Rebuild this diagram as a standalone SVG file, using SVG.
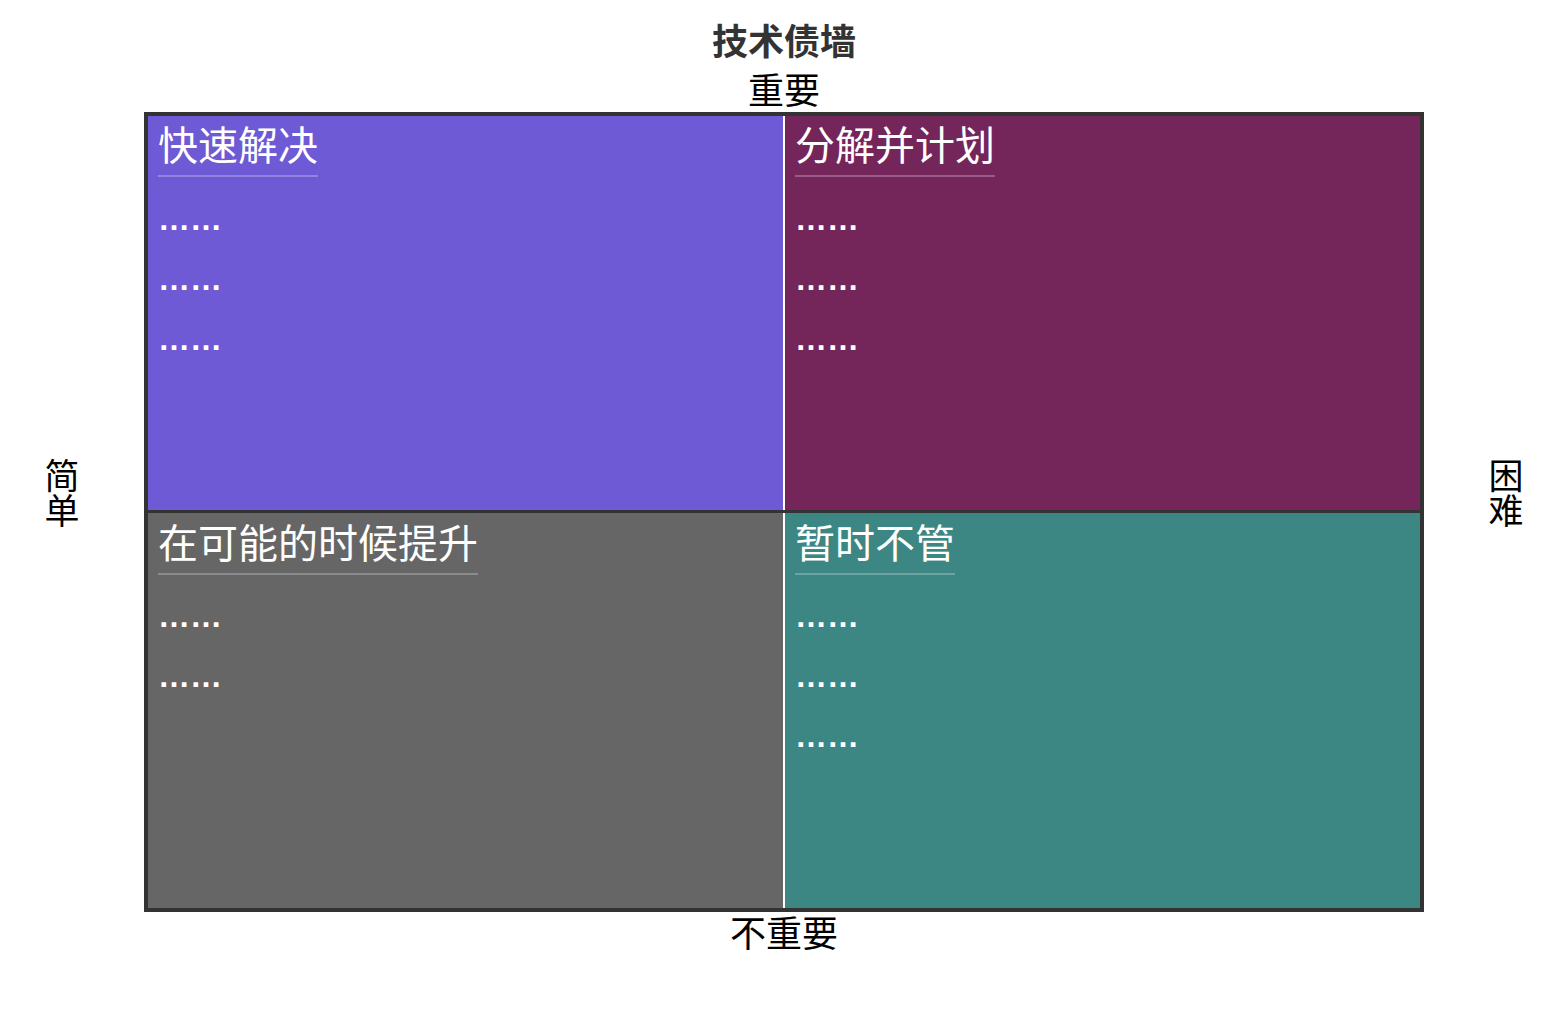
<svg xmlns="http://www.w3.org/2000/svg" width="1562" height="1010" viewBox="0 0 1562 1010">
<style>
  .axis { font-family: "Noto Sans CJK SC", sans-serif; font-size: 36px; fill: #000; text-anchor: middle; }
  .vert { font-family: "Noto Sans CJK SC", sans-serif; font-size: 35px; fill: #000; text-anchor: middle; writing-mode: vertical-rl; }
  .title { font-family: "Noto Sans CJK SC", sans-serif; font-size: 36px; font-weight: bold; fill: #333; text-anchor: middle; }
  .qt { font-family: "Noto Sans CJK SC", sans-serif; font-size: 40px; fill: #fff; }
  .ul { stroke: #fff; stroke-opacity: 0.25; stroke-width: 2; }
  .dots { font-family: "Liberation Sans", sans-serif; font-size: 32px; font-weight: bold; fill: #fff; }
</style>
<rect width="1562" height="1010" fill="#fff"/>
<g id="title">
  <text class="title" x="784" y="55">技术债墙</text>
</g>
<g id="axes">
  <text class="axis" x="784" y="104">重要</text>
  <text class="axis" x="784" y="947">不重要</text>
  <text class="vert" x="62" y="493">简单</text>
  <text class="vert" x="1506" y="493">困难</text>
</g>
<g id="q1">
  <rect x="148" y="116" width="635" height="396" fill="#6e5ad5"/>
  <text class="qt" x="158" y="160">快速解决</text>
  <line class="ul" x1="158" y1="176" x2="318" y2="176"/>
  <text class="dots" x="158" y="230">……</text>
  <text class="dots" x="158" y="290">……</text>
  <text class="dots" x="158" y="350">……</text>
</g>
<g id="q2">
  <rect x="785" y="116" width="635" height="396" fill="#74265a"/>
  <text class="qt" x="795" y="160">分解并计划</text>
  <line class="ul" x1="795" y1="176" x2="995" y2="176"/>
  <text class="dots" x="795" y="230">……</text>
  <text class="dots" x="795" y="290">……</text>
  <text class="dots" x="795" y="350">……</text>
</g>
<g id="q3">
  <rect x="148" y="512" width="635" height="396" fill="#666666"/>
  <text class="qt" x="158" y="558">在可能的时候提升</text>
  <line class="ul" x1="158" y1="574" x2="478" y2="574"/>
  <text class="dots" x="158" y="627">……</text>
  <text class="dots" x="158" y="687">……</text>
</g>
<g id="q4">
  <rect x="785" y="512" width="635" height="396" fill="#3c8683"/>
  <text class="qt" x="795" y="558">暂时不管</text>
  <line class="ul" x1="795" y1="574" x2="955" y2="574"/>
  <text class="dots" x="795" y="627">……</text>
  <text class="dots" x="795" y="687">……</text>
  <text class="dots" x="795" y="747">……</text>
</g>
<g id="connectors">
  <line x1="784" y1="116" x2="784" y2="908" stroke="#fff" stroke-width="2"/>
  <line x1="148" y1="511.5" x2="1420" y2="511.5" stroke="#333" stroke-width="3"/>
  <rect x="146" y="114" width="1276" height="796" fill="none" stroke="#333" stroke-width="4"/>
</g>
</svg>
